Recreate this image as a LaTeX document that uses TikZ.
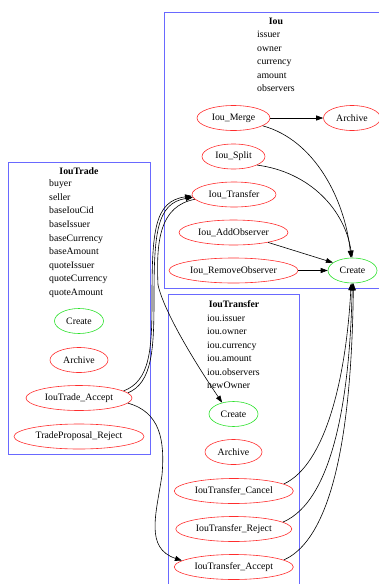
\documentclass[tikz,border=0pt]{standalone}
\usepackage{fontspec}
\setmainfont{Liberation Serif}
\usepackage{tikz}
\usetikzlibrary{arrows.meta,shapes.geometric}
\definecolor{tplblue}{RGB}{105,105,255}
\definecolor{choicered}{RGB}{255,45,45}
\definecolor{creategreen}{RGB}{45,225,45}

\begin{document}
\begin{tikzpicture}[x=1pt,y=-1pt,
  every node/.style={font=\fontsize{9.8}{12}\selectfont},
  tplbox/.style={draw=tplblue,line width=0.8pt},
  tplname/.style={font=\fontsize{9.8}{12}\selectfont\bfseries,inner sep=0pt},
  tplfield/.style={anchor=west,inner sep=0pt,text height=7pt,text depth=2pt},
  choice/.style={draw=choicered,line width=0.6pt,ellipse,inner sep=0pt,minimum height=25pt},
  creation/.style={draw=creategreen,line width=0.6pt,ellipse,inner sep=0pt,minimum height=25pt,minimum width=49pt},
  flow/.style={draw=black,line width=0.6pt,-{Triangle[length=7pt,width=5pt]}}]
\useasboundingbox (0,0) rectangle (379,584);
% Cadres des templates
\draw[tplbox] (164,12) rectangle (392,288);
\draw[tplbox] (8,162) rectangle (150,454);
\draw[tplbox] (168,294) rectangle (299,600);
% Iou
\node[tplname] (iouName) at (276,21) {Iou};
\foreach \f [count=\i] in {issuer,owner,currency,amount,observers}
  \node[tplfield] (iouF\i) at (257,21.5+13.5*\i) {\f};
\node[choice,minimum width=73pt] (iouMerge) at (233.5,118) {Iou\_Merge};
\node[choice,minimum width=57pt] (iouArchive) at (352,118) {Archive};
\node[choice,minimum width=63pt] (iouSplit) at (233.5,156.5) {Iou\_Split};
\node[choice,minimum width=84pt] (iouTransfer) at (234,194.5) {Iou\_Transfer};
\node[choice,minimum width=109pt] (iouAddObs) at (233.5,232.5) {Iou\_AddObserver};
\node[choice,minimum width=129pt] (iouRemoveObs) at (233.5,270.5) {Iou\_RemoveObserver};
\node[creation] (iouCreate) at (352.5,270.5) {Create};
% IouTrade
\node[tplname] (tradeName) at (79,171) {IouTrade};
\foreach \f [count=\i] in {buyer,seller,baseIouCid,baseIssuer,baseCurrency,baseAmount,quoteIssuer,quoteCurrency,quoteAmount}
  \node[tplfield] (tradeF\i) at (49,170.5+13.6*\i) {\f};
\node[creation] (tradeCreate) at (79,321) {Create};
\node[choice,minimum width=58pt] (tradeArchive) at (79,360) {Archive};
\node[choice,minimum width=106pt] (tradeAccept) at (79,398) {IouTrade\_Accept};
\node[choice,minimum width=130pt] (tradeReject) at (79,436.5) {TradeProposal\_Reject};
% IouTransfer
\node[tplname] (transferName) at (234,304) {IouTransfer};
\foreach \f [count=\i] in {iou.issuer,iou.owner,iou.currency,iou.amount,iou.observers,newOwner}
  \node[tplfield] (transferF\i) at (207,305.5+13.4*\i) {\f};
\node[creation] (transferCreate) at (233.5,414) {Create};
\node[choice,minimum width=57pt] (transferArchive) at (233.5,452) {Archive};
\node[choice,minimum width=119pt] (transferCancel) at (233.8,491) {IouTransfer\_Cancel};
\node[choice,minimum width=116pt] (transferReject) at (233.8,529) {IouTransfer\_Reject};
\node[choice,minimum width=119pt] (transferAccept) at (233.8,567) {IouTransfer\_Accept};
% Liens
\draw[flow] (iouMerge) -- (iouArchive);
\draw[flow] (iouMerge.-15) .. controls (315,140) and (345,200) .. (iouCreate.97);
\draw[flow] (iouSplit.-20) .. controls (310,172) and (345,210) .. (iouCreate.92);
\draw[flow] (iouAddObs.-16) -- (iouCreate.158);
\draw[flow] (iouRemoveObs) -- (iouCreate);
\draw[flow] (transferCancel.8) .. controls (325,465) and (346,380) .. (iouCreate.264);
\draw[flow] (transferReject.8) .. controls (335,500) and (350,390) .. (iouCreate.269);
\draw[flow] (transferAccept.8) .. controls (340,535) and (352,400) .. (iouCreate.274);
\draw[flow] (tradeAccept.6) .. controls (152,383) and (154,350) .. (154,300)
  .. controls (154,235) and (156,203) .. (iouTransfer.184);
\draw[flow] (tradeAccept.9) .. controls (150,381) and (152,350) .. (152,300)
  .. controls (152,232) and (154,201) .. (iouTransfer.182);
\draw[flow] (iouTransfer.187) .. controls (160,206) and (156,240) .. (158,285)
  .. controls (165,315) and (200,370) .. (transferCreate.135);
\draw[flow] (tradeAccept.-6) .. controls (160,412) and (165,440) .. (162,475)
  .. controls (156,515) and (145,548) .. (transferAccept.173);
\end{tikzpicture}
\end{document}
